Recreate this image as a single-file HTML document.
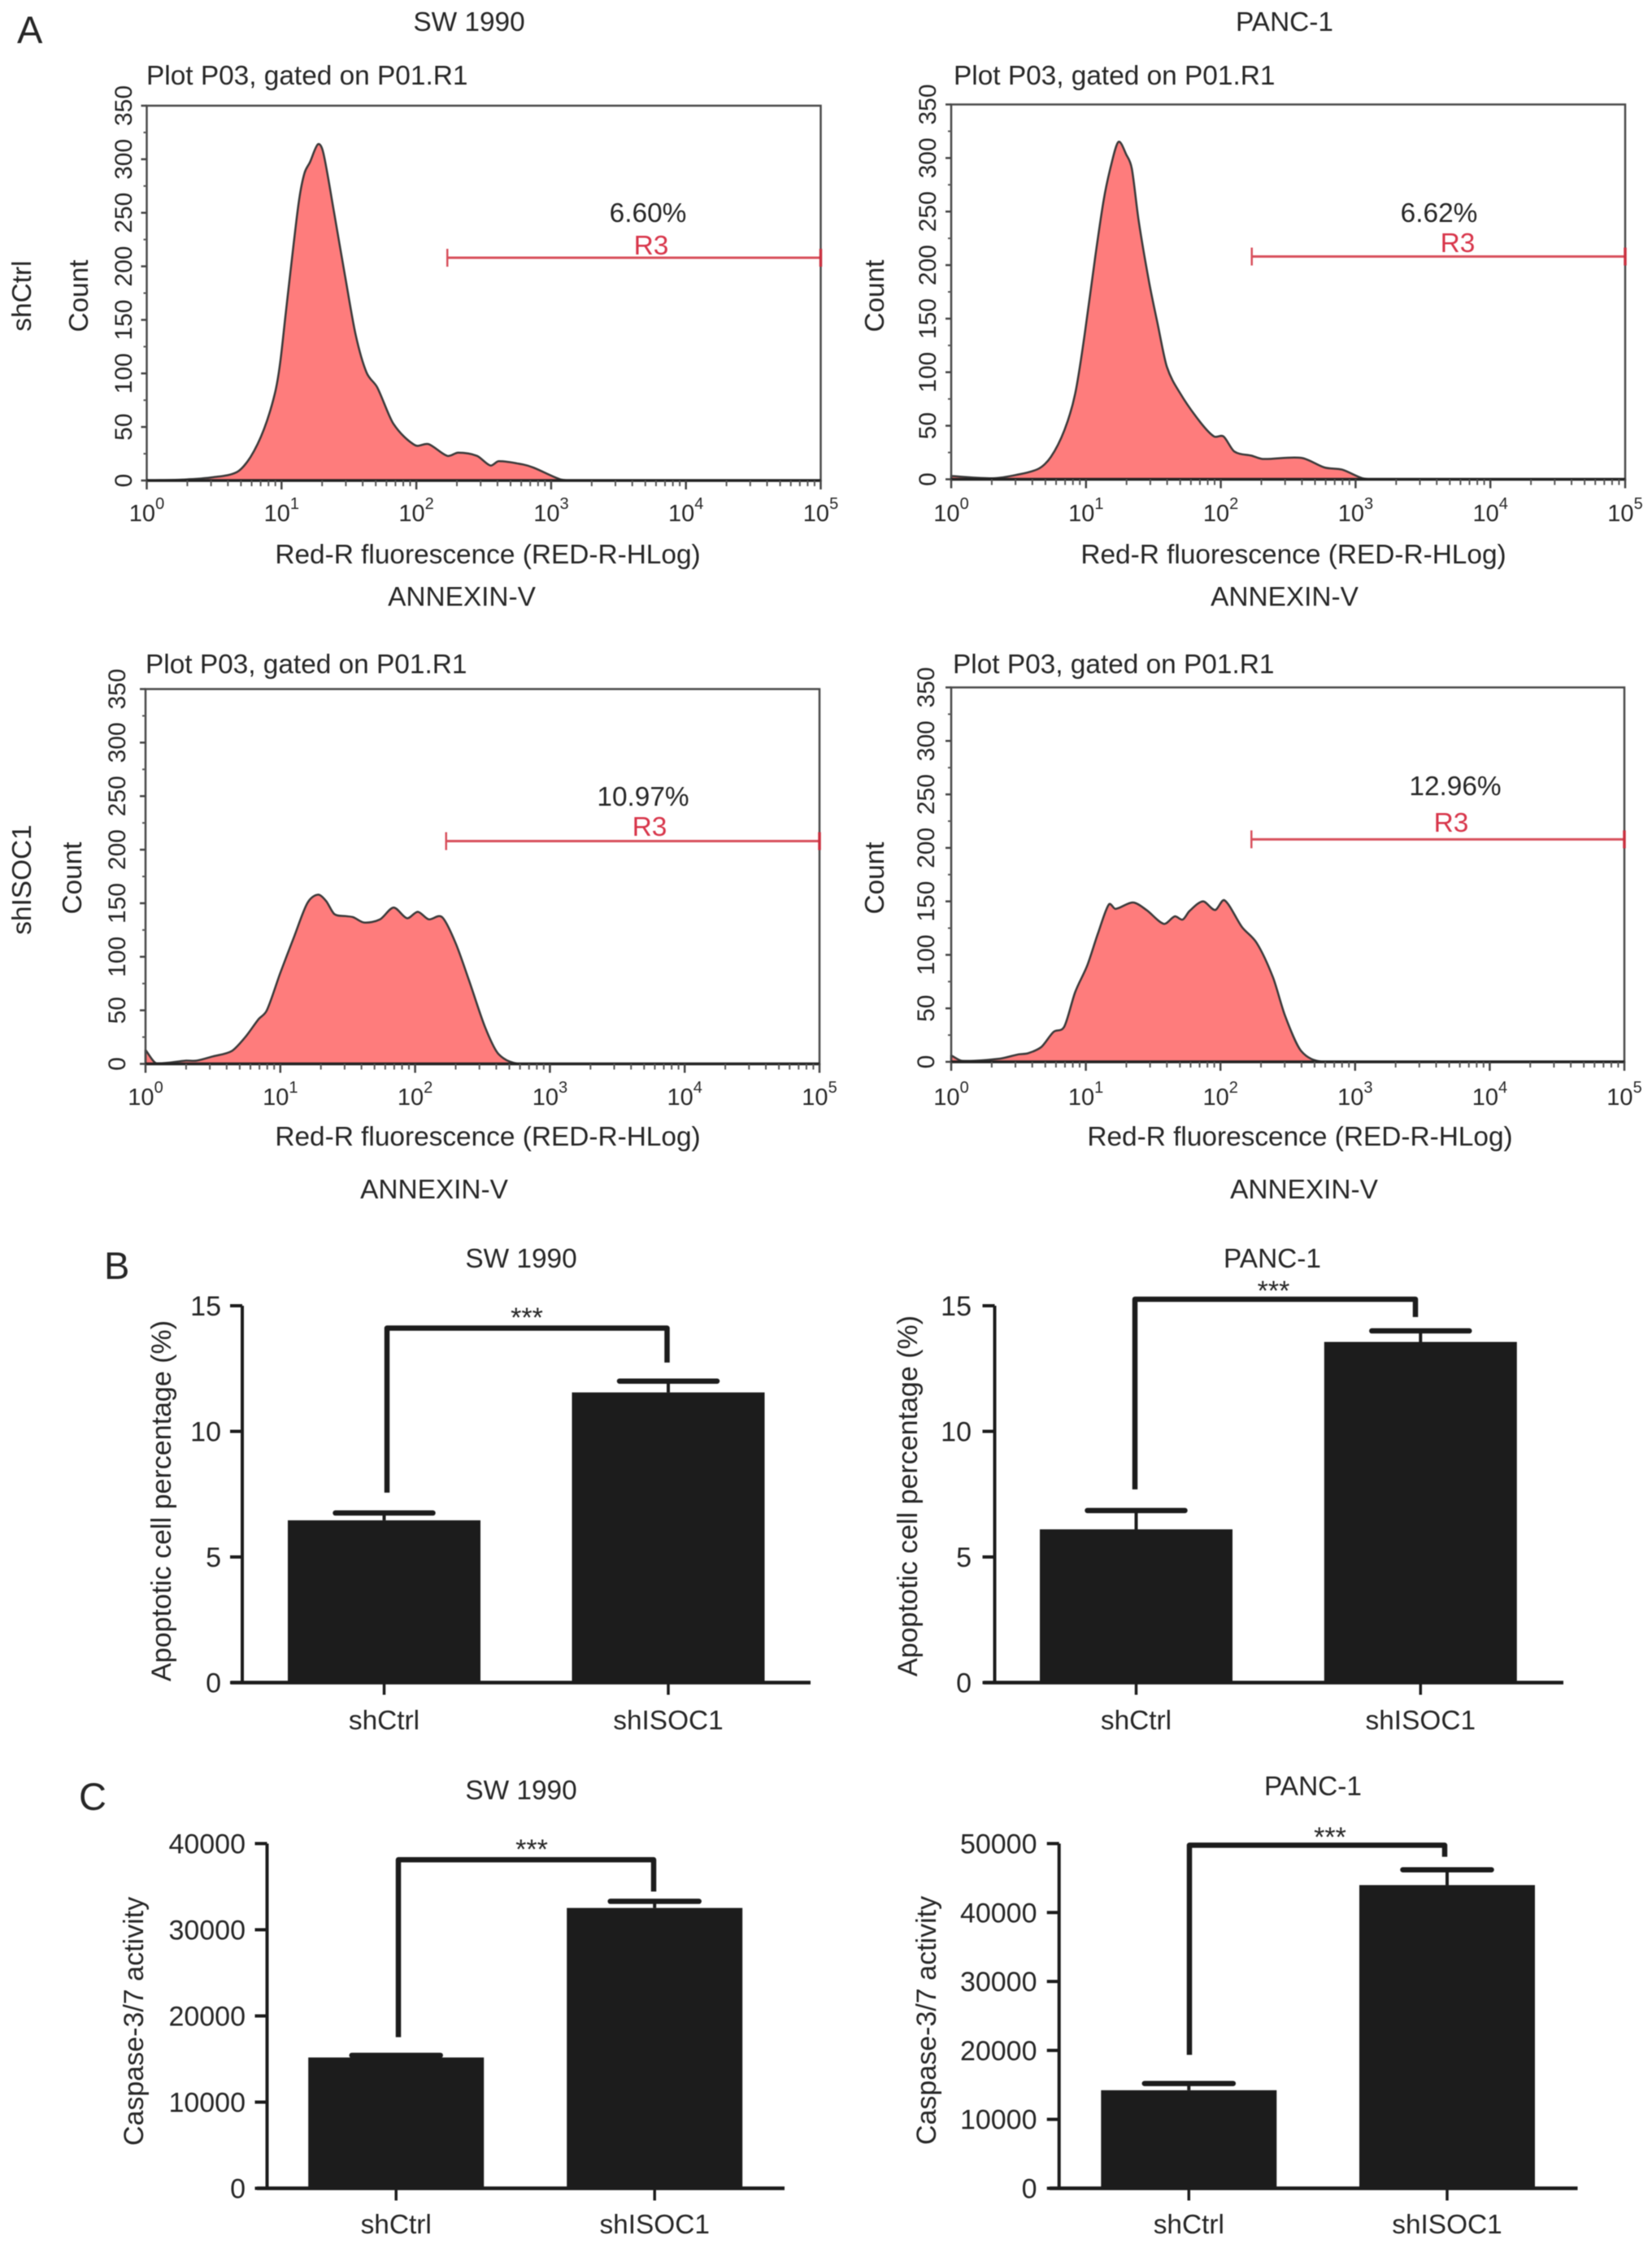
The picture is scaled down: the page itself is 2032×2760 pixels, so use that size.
<!DOCTYPE html>
<html lang="en">
<head>
<meta charset="utf-8">
<title>Apoptosis flow cytometry and caspase activity figure</title>
<style>
  html, body { margin: 0; padding: 0; background: #fff; }
  svg { display: block; font-family: "Liberation Sans", Arial, sans-serif; fill: #262626; filter: blur(0.5px); }
  .t { font-size: 33.4px; }
  .m { text-anchor: middle; }
  .p { font-size: 47px; }
  .r { fill: #d8354a; }
</style>
</head>
<body>
<svg id="fig" xmlns="http://www.w3.org/2000/svg" width="2032" height="2760" viewBox="0 0 2032 2760">
  <rect width="2032" height="2760" fill="#fff"/>

  <text class="p" x="21" y="53">A</text>
  <text class="p" x="128" y="1573">B</text>
  <text class="p" x="97" y="2226">C</text>

  <text class="t m" x="577" y="38">SW 1990</text>
  <text class="t m" x="1580" y="38">PANC-1</text>
  <text class="t m" transform="translate(38,364) rotate(-90)">shCtrl</text>
  <text class="t m" transform="translate(38,1082) rotate(-90)">shISOC1</text>

  <!-- Flow panel text -->
  <text class="t" x="180" y="104">Plot P03, gated on P01.R1</text>
  <text class="t" x="1173" y="104">Plot P03, gated on P01.R1</text>
  <text class="t" x="179" y="828">Plot P03, gated on P01.R1</text>
  <text class="t" x="1172" y="828">Plot P03, gated on P01.R1</text>

  <text class="t m" transform="translate(108,364) rotate(-90)">Count</text>
  <text class="t m" transform="translate(1087,364) rotate(-90)">Count</text>
  <text class="t m" transform="translate(100,1080) rotate(-90)">Count</text>
  <text class="t m" transform="translate(1087,1080) rotate(-90)">Count</text>

  <text class="t m" x="600" y="693">Red-R fluorescence (RED-R-HLog)</text>
  <text class="t m" x="1591" y="693">Red-R fluorescence (RED-R-HLog)</text>
  <text class="t m" x="600" y="1409">Red-R fluorescence (RED-R-HLog)</text>
  <text class="t m" x="1599" y="1409">Red-R fluorescence (RED-R-HLog)</text>

  <text class="t m" x="568" y="745">ANNEXIN-V</text>
  <text class="t m" x="1580" y="745">ANNEXIN-V</text>
  <text class="t m" x="534" y="1474">ANNEXIN-V</text>
  <text class="t m" x="1604" y="1474">ANNEXIN-V</text>

  <text class="t m" x="797" y="273">6.60%</text>
  <text class="t m r" x="801" y="313">R3</text>
  <text class="t m" x="1770" y="273">6.62%</text>
  <text class="t m r" x="1793" y="310">R3</text>
  <text class="t m" x="791" y="991">10.97%</text>
  <text class="t m r" x="799" y="1028">R3</text>
  <text class="t m" x="1790" y="978">12.96%</text>
  <text class="t m r" x="1785" y="1023">R3</text>

  <!-- Bar panel text -->
  <text class="t m" x="641" y="1559">SW 1990</text>
  <text class="t m" x="1565" y="1559">PANC-1</text>
  <text class="t m" x="641" y="2213">SW 1990</text>
  <text class="t m" x="1615" y="2208">PANC-1</text>
  <text class="t m" style="font-size:34px" transform="translate(210,1846) rotate(-90)">Apoptotic cell percentage (%)</text>
  <text class="t m" style="font-size:34px" transform="translate(1128,1840) rotate(-90)">Apoptotic cell percentage (%)</text>
  <text class="t m" style="font-size:34px" transform="translate(176,2486) rotate(-90)">Caspase-3/7 activity</text>
  <text class="t m" style="font-size:34px" transform="translate(1151,2485) rotate(-90)">Caspase-3/7 activity</text>
</svg>

<script>
// ---------- Flow histograms: log10 fluorescence and event count ----------
const histYTicks = [0, 50, 100, 150, 200, 250, 300, 350];
const histYMinor = [25, 75, 125, 175, 225, 275, 325];
const histXDecades = [0, 1, 2, 3, 4, 5];
const gateRangeLog = [2.23, 5];
const gateCount = [208];

const a1Log = [0, .29, .49, .67, .77, .87, .95, .99, 1.03, 1.09, 1.13, 1.17, 1.21, 1.27, 1.31, 1.39, 1.47, 1.55, 1.63, 1.71, 1.83, 1.99, 2.09, 2.23, 2.31, 2.45, 2.55, 2.61, 2.79, 2.87, 3.07, 3.17, 5];
const a1Count = [0, 1, 3, 8, 22, 48, 81, 110, 155, 221, 262, 287, 297, 314, 306, 250, 192, 136, 101, 87, 53, 33, 34, 23, 26, 23, 14, 18, 15, 12, 1, 0, 0];

const a2Log = [0, .31, .48, .65, .74, .84, .92, .99, 1.07, 1.13, 1.18, 1.24, 1.30, 1.34, 1.39, 1.47, 1.53, 1.60, 1.70, 1.85, 1.95, 2.02, 2.10, 2.23, 2.31, 2.60, 2.77, 2.90, 3.05, 3.15, 5];
const a2Count = [3, 1, 4, 10, 21, 46, 80, 135, 209, 260, 290, 315, 303, 290, 242, 183, 146, 105, 80, 53, 40, 40, 26, 22, 19, 20, 11, 9, 1, 0, 0];

const a3Log = [0, .08, .30, .38, .50, .64, .74, .84, .90, 1.0, 1.10, 1.20, 1.28, 1.34, 1.40, 1.48, 1.54, 1.62, 1.74, 1.84, 1.94, 2.02, 2.10, 2.20, 2.30, 2.40, 2.52, 2.62, 2.78, 5];
const a3Count = [13, 0.5, 3, 3, 7, 12, 25, 42, 50, 85, 118, 150, 158, 152, 140, 138, 137, 132, 135, 146, 136, 142, 135, 137, 113, 78, 34, 9, 0, 0];

const a4Log = [0, .08, .36, .50, .57, .67, .76, .84, .92, 1.01, 1.09, 1.17, 1.22, 1.35, 1.45, 1.58, 1.66, 1.72, 1.77, 1.87, 1.96, 2.03, 2.16, 2.27, 2.39, 2.48, 2.60, 2.77, 5];
const a4Count = [6, 1, 3, 7, 8, 14, 28, 33, 65, 90, 120, 147, 143, 149, 142, 129, 136, 133, 141, 150, 142, 151, 126, 111, 79, 43, 10, 0, 0];

// ---------- Bar charts ----------
const barCategories = ['shCtrl', 'shISOC1'];

const b1Means = [6.46, 11.55];
const b1Upper = [6.75, 12.0];
const b1Bracket = [7.56, 14.11, 12.74];
const b1Ticks = [0, 5, 10, 15];

const b2Means = [6.1, 13.56];
const b2Upper = [6.85, 14.0];
const b2Bracket = [7.69, 15.26, 14.55];
const b2Ticks = [0, 5, 10, 15];

const c1Means = [15180, 32530];
const c1Upper = [15430, 33300];
const c1Bracket = [17530, 38120, 34430];
const c1Ticks = [0, 10000, 20000, 30000, 40000];

const c2Means = [14226, 43980];
const c2Upper = [15200, 46200];
const c2Bracket = [19360, 49760, 48080];
const c2Ticks = [0, 10000, 20000, 30000, 40000, 50000];

// ---------- Drawing ----------
const NS = 'http://www.w3.org/2000/svg';
const fig = document.getElementById('fig');

function drawLine(x1, y1, x2, y2, color, width, cap, name) {
  const el = document.createElementNS(NS, 'line');
  
  
  el.setAttribute('x1', x1);
  el.setAttribute('y1', y1);
  el.setAttribute('x2', x2);
  el.setAttribute('y2', y2);
  el.setAttribute('stroke', color);
  el.setAttribute('stroke-width', width);
  el.setAttribute('stroke-linecap', cap);
  fig.appendChild(el);
  return el;
}

function drawText(x, y, size, anchor, content, rotate, name) {
  const el = document.createElementNS(NS, 'text');
  
  
  if (rotate) {
    el.setAttribute('transform', 'translate(' + x + ',' + y + ') rotate(-90)');
  } else {
    el.setAttribute('x', x);
    el.setAttribute('y', y);
  }
  el.setAttribute('font-size', size);
  el.setAttribute('text-anchor', anchor);
  el.textContent = content;
  fig.appendChild(el);
  return el;
}

function drawPower(x, y, exponent, name) {
  const el = document.createElementNS(NS, 'text');
  
  
  el.setAttribute('x', x);
  el.setAttribute('y', y);
  el.setAttribute('font-size', 29);
  el.setAttribute('text-anchor', 'middle');
  const base = document.createElementNS(NS, 'tspan');
  base.textContent = '10';
  const sup = document.createElementNS(NS, 'tspan');
  sup.setAttribute('font-size', 20);
  sup.setAttribute('dy', -15);
  sup.textContent = String(exponent);
  el.appendChild(base);
  el.appendChild(sup);
  fig.appendChild(el);
}

function drawHistogram(id, box, tickLabelX, labelY, logs, counts) {
  const xs = v => box.left + (box.right - box.left) * v / 5;
  const ys = v => box.bottom - (box.bottom - box.top) * v / 350;

  // Smooth curve through the read points, clamped at the axis baseline.
  const px = logs.map(xs);
  const py = counts.map(ys);
  const slope = i => {
    const a = Math.max(i - 1, 0);
    const b = Math.min(i + 1, px.length - 1);
    return (py[b] - py[a]) / (px[b] - px[a]);
  };
  let d = 'M' + px[0] + ' ' + ys(0) + ' L' + px[0].toFixed(1) + ' ' + py[0].toFixed(1);
  for (let i = 0; i < px.length - 1; i++) {
    const h = (px[i + 1] - px[i]) * 0.3;
    const c1x = px[i] + h;
    const c1y = Math.min(py[i] + slope(i) * h, ys(0));
    const c2x = px[i + 1] - h;
    const c2y = Math.min(py[i + 1] - slope(i + 1) * h, ys(0));
    d += ' C' + c1x.toFixed(1) + ' ' + c1y.toFixed(1) + ' ' + c2x.toFixed(1) + ' ' + c2y.toFixed(1) + ' ' + px[i + 1].toFixed(1) + ' ' + py[i + 1].toFixed(1);
  }
  d += ' L' + px[px.length - 1] + ' ' + ys(0) + ' Z';
  const curve = document.createElementNS(NS, 'path');
  
  
  curve.setAttribute('d', d);
  curve.setAttribute('fill', '#fe7c7c');
  curve.setAttribute('stroke', '#3a3a3a');
  curve.setAttribute('stroke-width', 2.5);
  curve.setAttribute('stroke-linejoin', 'round');
  fig.appendChild(curve);

  const frame = document.createElementNS(NS, 'rect');
  
  
  frame.setAttribute('x', box.left);
  frame.setAttribute('y', box.top);
  frame.setAttribute('width', box.right - box.left);
  frame.setAttribute('height', box.bottom - box.top);
  frame.setAttribute('fill', 'none');
  frame.setAttribute('stroke', '#4a4a4a');
  frame.setAttribute('stroke-width', 2.5);
  fig.appendChild(frame);
  drawLine(box.left, box.bottom, box.right, box.bottom, '#222', 3.5, 'butt', 'x-axis-baseline-' + id);

  histYTicks.forEach(v => {
    drawLine(box.left - 7, ys(v), box.left, ys(v), '#444', 2.5, 'butt', 'y-tick-' + id);
    drawText(tickLabelX, ys(v), 30, 'middle', String(v), true, 'y-tick-label-' + id);
  });
  histYMinor.forEach(v => {
    drawLine(box.left - 4, ys(v), box.left, ys(v), '#555', 2, 'butt', 'y-minor-tick-' + id);
  });
  histXDecades.forEach(dec => {
    drawLine(xs(dec), box.bottom, xs(dec), box.bottom + 11, '#444', 2.5, 'butt', 'x-tick-' + id);
    drawPower(xs(dec), labelY, dec, 'x-tick-label-' + id);
    if (dec < 5) {
      for (let m = 2; m < 10; m++) {
        const mx = xs(dec + Math.log10(m));
        drawLine(mx, box.bottom, mx, box.bottom + 7, '#555', 2, 'butt', 'x-minor-tick-' + id);
      }
    }
  });

  const gx1 = xs(gateRangeLog[0]);
  const gx2 = xs(gateRangeLog[1]);
  const gy = ys(gateCount[0]);
  drawLine(gx1, gy, gx2, gy, '#d8505c', 3, 'butt', 'gate-line-' + id);
  drawLine(gx1, gy - 11, gx1, gy + 11, '#d8505c', 2.5, 'butt', 'gate-left-end-' + id);
  drawLine(gx2, gy - 11, gx2, gy + 11, '#c8303f', 3.5, 'butt', 'gate-right-end-' + id);
}

drawHistogram('a1', { left: 180.5, right: 1009.5, top: 130, bottom: 591 }, 162, 641, a1Log, a1Count);
drawHistogram('a2', { left: 1170, right: 1999, top: 128.5, bottom: 589.5 }, 1151, 641, a2Log, a2Count);
drawHistogram('a3', { left: 179, right: 1008, top: 847.5, bottom: 1308.5 }, 154, 1359, a3Log, a3Count);
drawHistogram('a4', { left: 1170, right: 1998, top: 845.5, bottom: 1306 }, 1149, 1359, a4Log, a4Count);

function drawBarChart(id, g, means, upper, bracket, ticks) {
  const top = ticks[ticks.length - 1];
  const ys = v => g.y0 - (g.y0 - g.yTop) * v / top;
  const INK = '#1c1c1c';

  means.forEach((m, i) => {
    const cx = g.first + g.step * i;
    const bar = document.createElementNS(NS, 'rect');
    
    
    bar.setAttribute('x', cx - g.barW / 2);
    bar.setAttribute('y', ys(m));
    bar.setAttribute('width', g.barW);
    bar.setAttribute('height', g.y0 - ys(m));
    bar.setAttribute('fill', INK);
    fig.appendChild(bar);
    drawLine(cx, ys(m), cx, ys(upper[i]), INK, 4, 'butt', 'error-stem-' + id);
    drawLine(cx - g.capW / 2, ys(upper[i]), cx + g.capW / 2, ys(upper[i]), INK, 6.5, 'round', 'error-cap-' + id);
    drawLine(cx, g.y0, cx, g.y0 + 15, INK, 3.5, 'butt', 'x-tick-' + id);
    drawText(cx, g.labelY, 33.4, 'middle', barCategories[i], false, 'x-tick-label-' + id);
  });

  drawLine(g.axisX, g.yTop, g.axisX, g.y0, INK, 4, 'butt', 'y-axis-' + id);
  drawLine(g.axisStart, g.y0, g.axisEnd, g.y0, INK, 4.5, 'butt', 'x-axis-' + id);
  ticks.forEach(v => {
    drawLine(g.axisX - 15, ys(v), g.axisX, ys(v), INK, 4, 'butt', 'y-tick-' + id);
    drawText(g.tickRight, ys(v) + 12, 34, 'end', String(v), false, 'y-tick-label-' + id);
  });

  const br = document.createElementNS(NS, 'path');
  
  
  br.setAttribute('d', 'M' + g.brLeft + ' ' + ys(bracket[0]) + ' V' + ys(bracket[1]) + ' H' + g.brRight + ' V' + ys(bracket[2]));
  br.setAttribute('fill', 'none');
  br.setAttribute('stroke', INK);
  br.setAttribute('stroke-width', 6.5);
  br.setAttribute('stroke-linejoin', 'round');
  fig.appendChild(br);
  drawText(g.starX, g.starY, 34, 'middle', '***', false, 'significance-stars-' + id);
}

drawBarChart('b1', { y0: 2069.5, yTop: 1606, axisX: 298, axisStart: 284, axisEnd: 997, first: 472.5, step: 349.5, barW: 237, capW: 120, labelY: 2127, tickRight: 272, brLeft: 476, brRight: 820.5, starX: 648, starY: 1632 }, b1Means, b1Upper, b1Bracket, b1Ticks);
drawBarChart('b2', { y0: 2069.5, yTop: 1606, axisX: 1223.5, axisStart: 1210, axisEnd: 1923, first: 1397.5, step: 349.8, barW: 237, capW: 120, labelY: 2127, tickRight: 1195, brLeft: 1396, brRight: 1741, starX: 1566.5, starY: 1599 }, b2Means, b2Upper, b2Bracket, b2Ticks);
drawBarChart('c1', { y0: 2691.5, yTop: 2267.5, axisX: 328.5, axisStart: 316, axisEnd: 965, first: 487.2, step: 318, barW: 216, capW: 109, labelY: 2747, tickRight: 302, brLeft: 490, brRight: 804, starX: 654, starY: 2286 }, c1Means, c1Upper, c1Bracket, c1Ticks);
drawBarChart('c2', { y0: 2691.5, yTop: 2267.5, axisX: 1302.7, axisStart: 1291, axisEnd: 1940.5, first: 1462.3, step: 317.7, barW: 216, capW: 109, labelY: 2747, tickRight: 1275.5, brLeft: 1463, brRight: 1777, starX: 1636, starY: 2271 }, c2Means, c2Upper, c2Bracket, c2Ticks);
</script>
</body>
</html>
